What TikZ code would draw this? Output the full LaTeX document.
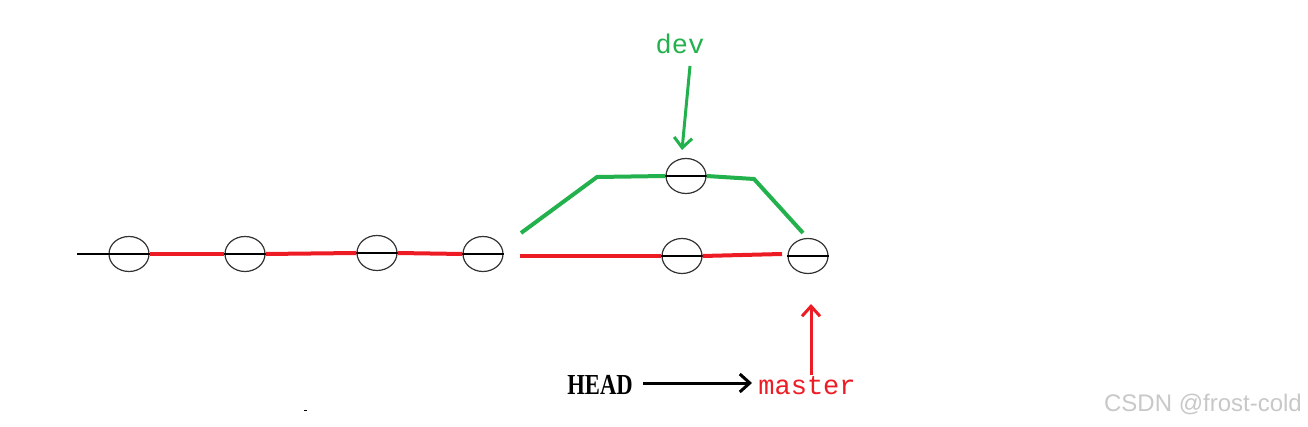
\documentclass[tikz,border=0pt]{standalone}
\usepackage{fontspec}
\setmainfont{Liberation Serif}
\newfontfamily\monofnt{Liberation Mono}
\newfontfamily\sansfnt{Liberation Sans}
\usetikzlibrary{shapes.geometric,arrows.meta}
\definecolor{gitred}{RGB}{237,28,36}
\definecolor{gitgreen}{RGB}{34,177,76}
\definecolor{wmgray}{RGB}{200,200,200}
\tikzset{
  commit/.style={ellipse,draw=black!80,line width=1.2pt,minimum width=40pt,minimum height=35pt,inner sep=0pt},
  thinline/.style={draw=black,line width=1.2pt},
  redline/.style={draw=gitred,line width=4pt},
  greenline/.style={draw=gitgreen,line width=4pt,line join=miter},
  ptr/.style={line width=3pt,-{Straight Barb[length=10pt,width=18pt,line width=3pt]}},
}
\begin{document}
\begin{tikzpicture}[x=1pt,y=-1pt]
\useasboundingbox (0,0) rectangle (1308,427);
% commits
\node[commit] (c1) at (129,254) {};
\node[commit] (c2) at (245,254) {};
\node[commit] (c3) at (377,253) {};
\node[commit] (c4) at (483,254) {};
\node[commit] (c5) at (682,256) {};
\node[commit] (c6) at (808,256) {};
\node[commit] (cd) at (686,176) {};
% diameters
\foreach \c in {c1,c2,c3,c4,c5,c6,cd} \draw[thinline] (\c.west) -- (\c.east);
% free ends
\coordinate (s0) at (77,254);
\coordinate (r0) at (520,256);
\coordinate (r1) at (782,254);
\coordinate (g0) at (521,233);
\coordinate (g1) at (597,177);
\coordinate (g2) at (754,179);
\coordinate (g3) at (803,233);
% lines
\draw[thinline] (s0) -- (c1.west);
\draw[redline] (c1.east) -- (c2.west);
\draw[redline] (c2.east) -- (c3.west);
\draw[redline] (c3.east) -- (c4.west);
\draw[redline] (r0) -- (c5.west);
\draw[redline] (c5.east) -- (r1);
\draw[greenline] (g0) -- (g1) -- (cd.west);
\draw[greenline] (cd.east) -- (g2) -- (g3);
% labels
\node[text=gitgreen,font=\monofnt\fontsize{27}{30}\selectfont,inner sep=0pt] (dev) at (680,44) {dev};
\node[text=gitred,font=\monofnt\fontsize{27}{30}\selectfont,inner sep=0pt] (master) at (807,386) {master};
\node[text=black,font=\bfseries\fontsize{29}{32}\selectfont,inner sep=0pt,xscale=0.78] (head) at (600,385) {HEAD};
\coordinate (devtail) at (690,66);
\coordinate (mtail) at (811,375);
\coordinate (htail) at (643,383);
\coordinate (htip) at (752,383);
\draw[ptr,gitgreen] (devtail) -- (682,150);
\draw[ptr,gitred] (mtail) -- (811,304);
\draw[ptr,black] (htail) -- (htip);
% watermark
\node[text=wmgray,font=\sansfnt\fontsize{24}{28}\selectfont,inner sep=0pt] (wm) at (1203,404) {CSDN @frost-cold};
% stray dot
\fill[black] (304,409.5) rectangle (307,411);
\end{tikzpicture}
\end{document}
